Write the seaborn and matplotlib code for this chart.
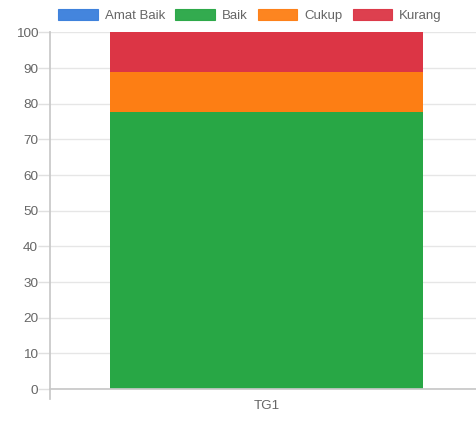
import matplotlib
matplotlib.use("Agg")
import matplotlib.pyplot as plt
from matplotlib.patches import Patch
import seaborn as sns
import pandas as pd
import numpy as np

categories = ["TG1"]
series_names = ["Amat Baik", "Baik", "Cukup", "Kurang"]
series_colors = ["#3a7fdc", "#28a745", "#fd7e14", "#dc3545"]
amat_baik = [0.0]
baik = [77.78]
cukup = [11.11]
kurang = [11.11]
y_ticks = [0, 10, 20, 30, 40, 50, 60, 70, 80, 90, 100]

sns.set_theme(style="white")
plt.rcParams["font.family"] = ["Liberation Sans", "DejaVu Sans"]

W, H = 476, 421
fig = plt.figure(figsize=(W / 100, H / 100), dpi=100)
ax = fig.add_axes([50 / W, (H - 389) / H, (W - 50) / W, (389 - 32.5) / H])

values = [amat_baik, baik, cukup, kurang]
cum = np.cumsum(np.array(values), axis=0)

# stacked bars: draw the tallest cumulative layer first
for name, color, top in reversed(list(zip(series_names, series_colors, cum))):
    df = pd.DataFrame({"cat": categories, "val": top})
    sns.barplot(data=df, x="cat", y="val", color=color, width=0.735,
                saturation=1, linewidth=0, ax=ax, zorder=2)

ax.set_ylim(0, 100)
ax.set_xlim(-0.508, 0.492)
ax.set_yticks(y_ticks)
ax.set_xlabel("")
ax.set_ylabel("")
ax.grid(axis="y", color="#e6e6e6", linewidth=1, zorder=0)
ax.set_axisbelow(True)

for side in ["top", "right"]:
    ax.spines[side].set_visible(False)
ax.spines["left"].set_color("#c8c8c8")
ax.spines["bottom"].set_color("#c8c8c8")
ax.spines["left"].set_bounds(-2.8, 100)

ax.tick_params(axis="y", colors="#666666", labelsize=9.7, length=8.5, width=1,
               color="#e0e0e0", pad=0, left=True)
ax.tick_params(axis="x", colors="#666666", labelsize=9.7, length=0, pad=8)
for lab in ax.get_yticklabels() + ax.get_xticklabels():
    lab.set_color("#666666")

handles = [Patch(facecolor=c, edgecolor=c, linewidth=0.8, alpha=0.95) for c in series_colors]
fig.legend(handles, series_names, loc="upper center", bbox_to_anchor=(0.525, 1.008),
           ncol=4, frameon=False, fontsize=9.5, handlelength=3.0, handleheight=0.95,
           handletextpad=0.5, columnspacing=0.8, labelcolor="#666666")

fig.savefig("out.png", dpi=100)
